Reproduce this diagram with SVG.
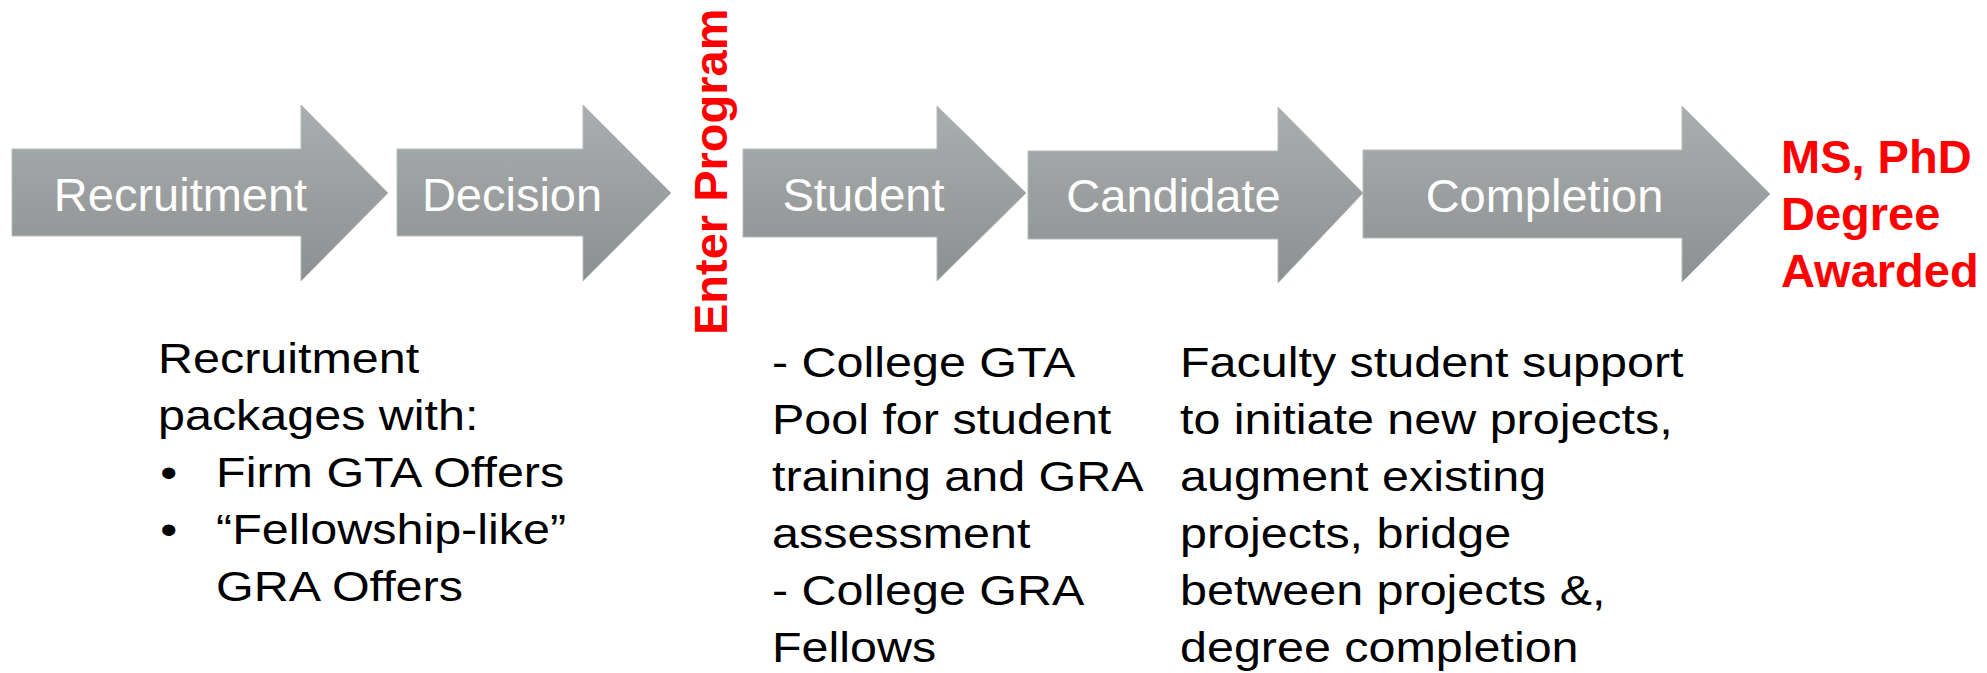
<svg xmlns="http://www.w3.org/2000/svg" width="1987" height="673" viewBox="0 0 1987 673">
<defs>
<linearGradient id="g" x1="0" y1="0" x2="0" y2="1">
<stop offset="0" stop-color="#abaeae"/>
<stop offset="1" stop-color="#8c9090"/>
</linearGradient>
<style>
.arr{fill:url(#g);stroke:#b8bbbb;stroke-width:1}
.lbl{font-family:"Liberation Sans",Arial,sans-serif;font-size:47px;fill:#ffffff;text-anchor:middle}
.red{font-family:"Liberation Sans",Arial,sans-serif;font-size:47px;font-weight:bold;fill:#ff0000}
.body{font-family:"Liberation Sans",Arial,sans-serif;font-size:42.5px;fill:#000000}
</style>
</defs>
<rect width="1987" height="673" fill="#ffffff"/>
<g id="connectors"></g>
<g id="recruitment">
<polygon class="arr" points="12,149 301,149 301,105 388,193 301,281 301,236 12,236"/>
<text class="lbl" x="180.5" y="211">Recruitment</text>
</g>
<g id="decision">
<polygon class="arr" points="397,149 583,149 583,105 671,193 583,281 583,236 397,236"/>
<text class="lbl" x="512" y="211">Decision</text>
</g>
<g id="enter-program">
<text class="red" transform="translate(727,335) rotate(-90)">Enter Program</text>
</g>
<g id="student">
<polygon class="arr" points="743,149 937,149 937,106 1026,193 937,281 937,237 743,237"/>
<text class="lbl" x="863.5" y="211">Student</text>
</g>
<g id="candidate">
<polygon class="arr" points="1028,151 1278,151 1278,107 1363,193 1278,283 1278,239 1028,239"/>
<text class="lbl" x="1173.5" y="212">Candidate</text>
</g>
<g id="completion">
<polygon class="arr" points="1363,150 1682,150 1682,106 1770,194 1682,282 1682,238 1363,238"/>
<text class="lbl" x="1544.5" y="212">Completion</text>
</g>
<g id="degree-awarded">
<text class="red" x="1781" y="173">MS, PhD</text>
<text class="red" x="1781" y="230">Degree</text>
<text class="red" x="1781" y="287">Awarded</text>
</g>
<g id="recruitment-notes" transform="translate(158,0) scale(1.14,1)">
<text class="body" x="0" y="373">Recruitment</text>
<text class="body" x="0" y="430">packages with:</text>
<text class="body" x="2" y="487">•</text>
<text class="body" x="51" y="487">Firm GTA Offers</text>
<text class="body" x="2" y="544">•</text>
<text class="body" x="51" y="544">“Fellowship-like”</text>
<text class="body" x="51" y="601">GRA Offers</text>
</g>
<g id="student-notes" transform="translate(772,0) scale(1.14,1)">
<text class="body" x="0" y="377">- College GTA</text>
<text class="body" x="0" y="434">Pool for student</text>
<text class="body" x="0" y="491">training and GRA</text>
<text class="body" x="0" y="548">assessment</text>
<text class="body" x="0" y="605">- College GRA</text>
<text class="body" x="0" y="662">Fellows</text>
</g>
<g id="candidate-notes" transform="translate(1180,0) scale(1.14,1)">
<text class="body" x="0" y="377">Faculty student support</text>
<text class="body" x="0" y="434">to initiate new projects,</text>
<text class="body" x="0" y="491">augment existing</text>
<text class="body" x="0" y="548">projects, bridge</text>
<text class="body" x="0" y="605">between projects &amp;,</text>
<text class="body" x="0" y="662">degree completion</text>
</g>
</svg>
